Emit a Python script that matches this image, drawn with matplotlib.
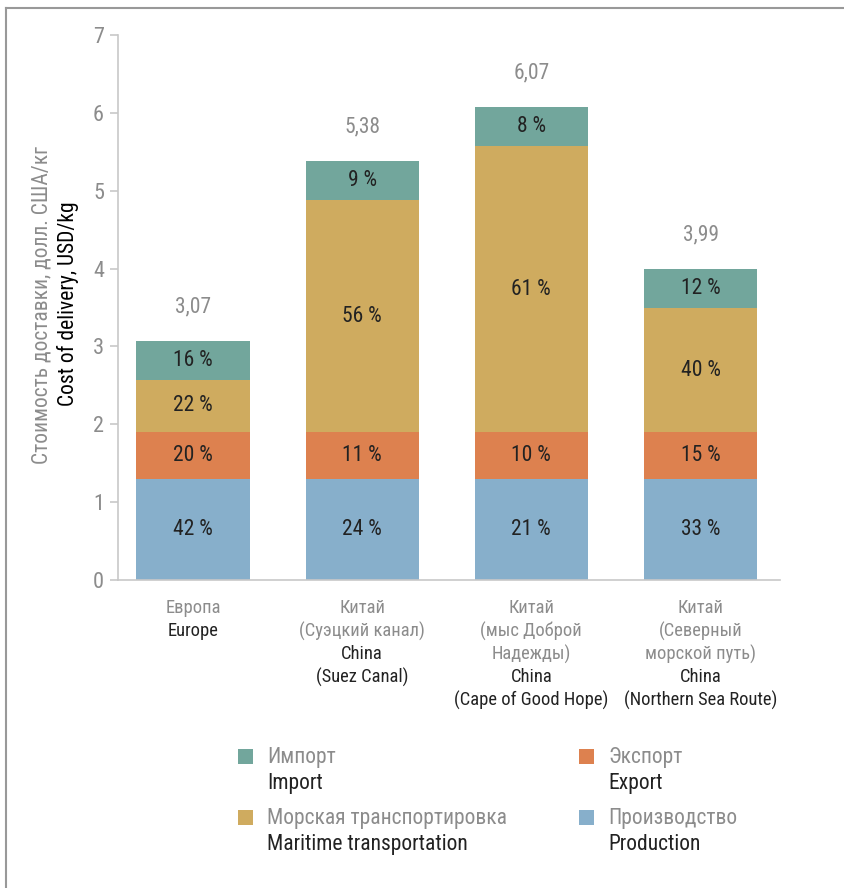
import numpy as np
import matplotlib
matplotlib.use("Agg")
import matplotlib.pyplot as plt
from matplotlib import font_manager
from matplotlib.lines import Line2D
from matplotlib.patches import Rectangle

names = {f.name for f in font_manager.fontManager.ttflist}
FONT = next((n for n in ["Roboto Condensed", "Liberation Sans Narrow", "Roboto"] if n in names), "DejaVu Sans")
plt.rcParams["font.family"] = [FONT, "DejaVu Sans"]

categories_ru = [["Европа"], ["Китай", "(Суэцкий канал)"],
                 ["Китай", "(мыс Доброй", "Надежды)"], ["Китай", "(Северный", "морской путь)"]]
categories_en = [["Europe"], ["China", "(Suez Canal)"],
                 ["China", "(Cape of Good Hope)"], ["China", "(Northern Sea Route)"]]
totals = [3.07, 5.38, 6.07, 3.99]
production = [1.30, 1.30, 1.30, 1.30]
export = [0.60, 0.60, 0.60, 0.60]
maritime = [0.67, 2.98, 3.67, 1.59]
imports = [0.50, 0.50, 0.50, 0.50]
pct_production = [42, 24, 21, 33]
pct_export = [20, 11, 10, 15]
pct_maritime = [22, 56, 61, 40]
pct_import = [16, 9, 8, 12]
series_ru = ["Импорт", "Экспорт", "Морская транспортировка", "Производство"]
series_en = ["Import", "Export", "Maritime transportation", "Production"]

C_IMP, C_MAR, C_EXP, C_PROD = "#72a69c", "#cfab5f", "#dd814f", "#87afcb"
GRAY = "#8c8c8c"
DARK = "#222222"

fig = plt.figure(figsize=(8.44, 8.88), dpi=100)
ax = fig.add_axes([118/844, 1-580/888, (780-118)/844, (580-35)/888])

x = np.arange(len(totals))
w = 0.67
stack = [(production, pct_production, C_PROD), (export, pct_export, C_EXP),
         (maritime, pct_maritime, C_MAR), (imports, pct_import, C_IMP)]
bottom = np.zeros(len(x))
for vals, pcts, col in stack:
    vals = np.array(vals)
    ax.bar(x, vals, w, bottom=bottom, color=col, linewidth=0)
    for xi, b, v, p in zip(x, bottom, vals, pcts):
        ax.text(xi, b + v/2, f"{p} %", ha="center", va="center", fontsize=15.5, color=DARK)
    bottom = bottom + vals

for xi, t in zip(x, totals):
    ax.annotate(f"{t:.2f}".replace(".", ","), (xi, t), xytext=(0, 34), textcoords="offset pixels",
                ha="center", va="center", fontsize=15.5, color=GRAY)

ax.set_xlim(-0.444, 3.47)
ax.set_ylim(0, 7)
ax.set_yticks(range(8))
ax.set_xticks([])
for s in ["top", "right"]:
    ax.spines[s].set_visible(False)
for s in ["left", "bottom"]:
    ax.spines[s].set_color("#c8c8c8")
    ax.spines[s].set_linewidth(1.2)
ax.tick_params(axis="y", colors="#c8c8c8", labelcolor=GRAY, labelsize=16, length=6, width=1.2, pad=4)

# category labels
for xi, ru, en in zip(x, categories_ru, categories_en):
    lines = [(s, GRAY) for s in ru] + [(s, DARK) for s in en]
    for k, (s, col) in enumerate(lines):
        ax.annotate(s, (xi, 0), xytext=(0, -28 - 23*k), textcoords="offset pixels",
                    ha="center", va="center", fontsize=13.3, color=col, annotation_clip=False)

# y labels
fig.text(42/844, 1-305/888, "Стоимость доставки, долл. США/кг", rotation=90,
         ha="center", va="center", fontsize=15.5, color=GRAY)
fig.text(68/844, 1-304/888, "Cost of delivery, USD/kg", rotation=90,
         ha="center", va="center", fontsize=15.5, color="black")

# legend
leg_pos = [(238, 757), (579, 757), (238, 818), (579, 818)]
leg_col = [C_IMP, C_EXP, C_MAR, C_PROD]
for (px, py), col, ru, en in zip(leg_pos, leg_col, series_ru, series_en):
    fig.patches.append(Rectangle((px/844, 1-(py+7)/888), 15/844, 15/888,
                                 transform=fig.transFigure, color=col, linewidth=0))
    fig.text((px+29)/844, 1-py/888, ru, ha="left", va="center", fontsize=15.5, color=GRAY)
    fig.text((px+29)/844, 1-(py+26)/888, en, ha="left", va="center", fontsize=15.5, color=DARK)

# frame
fig.add_artist(Line2D([6/844, 1], [1-8/888, 1-8/888], transform=fig.transFigure, color="#999999", lw=1.5))
fig.add_artist(Line2D([6/844, 6/844], [0, 1-8/888], transform=fig.transFigure, color="#999999", lw=1.5))

fig.savefig("out.png", dpi=100)
